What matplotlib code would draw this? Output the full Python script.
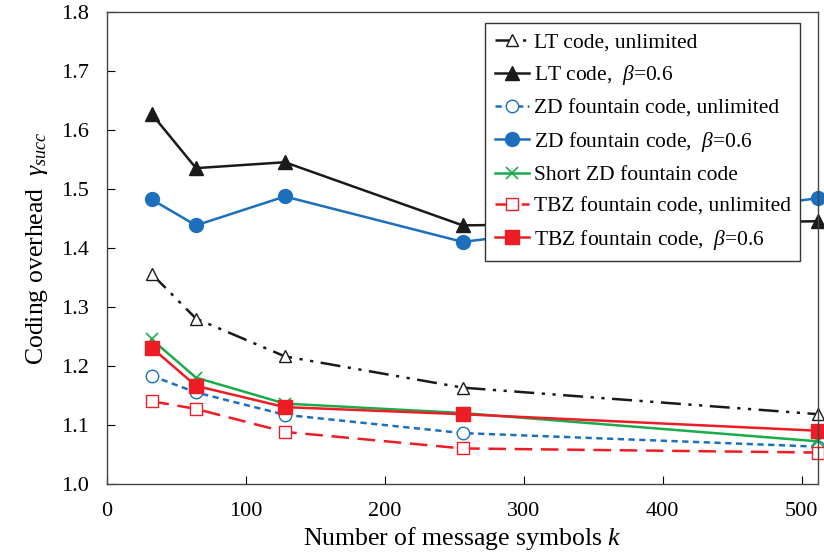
import numpy as np
import matplotlib.pyplot as plt

plt.rcParams['font.family'] = 'Liberation Serif'
plt.rcParams['mathtext.fontset'] = 'custom'
plt.rcParams['mathtext.rm'] = 'Liberation Serif'
plt.rcParams['mathtext.it'] = 'Liberation Serif:italic'

k = [32, 64, 128, 256, 512]

lt_unlim = [1.356, 1.280, 1.216, 1.163, 1.118]
lt_beta = [1.627, 1.535, 1.545, 1.438, 1.445]
zd_unlim = [1.183, 1.155, 1.117, 1.086, 1.063]
zd_beta = [1.482, 1.438, 1.487, 1.410, 1.484]
short_zd = [1.245, 1.180, 1.136, 1.120, 1.072]
tbz_unlim = [1.140, 1.127, 1.088, 1.060, 1.053]
tbz_beta = [1.231, 1.166, 1.130, 1.118, 1.090]

black = '#1a1a1a'
blue = '#1c6fbd'
green = '#1aab4b'
red = '#ee1c25'

fig = plt.figure(figsize=(8.24, 5.6), dpi=100)
ax = fig.add_axes([0.130, 0.136, 0.863, 0.843])

kw = dict(lw=1.8, clip_on=False)
ax.plot(k, lt_unlim, color=black, ls=(0, (8, 3, 1.3, 3, 1.3, 3)), marker='^', ms=9,
        mfc='white', mec=black, label='LT code, unlimited', **kw)
ax.plot(k, lt_beta, color=black, ls='-', marker='^', ms=10,
        label=r'LT code,  $\beta$=0.6', **kw)
ax.plot(k, zd_unlim, color=blue, ls=(0, (2.5, 1.8)), marker='o', ms=9,
        mfc='white', mec=blue, label='ZD fountain code, unlimited', **kw)
ax.plot(k, zd_beta, color=blue, ls='-', marker='o', ms=10,
        label=r'ZD fountain code,  $\beta$=0.6', **kw)
ax.plot(k, short_zd, color=green, ls='-', marker='x', ms=8, mew=1.2,
        label='Short ZD fountain code', **kw)
ax.plot(k, tbz_unlim, color=red, ls=(0, (7, 3.5)), marker='s', ms=9,
        mfc='white', mec=red, label='TBZ fountain code, unlimited', **kw)
ax.plot(k, tbz_beta, color=red, ls='-', marker='s', ms=10,
        label=r'TBZ fountain code,  $\beta$=0.6', **kw)

ax.set_xlim(0, 512)
ax.set_ylim(1.0, 1.8)
ax.set_xticks([0, 100, 200, 300, 400, 500])
ax.set_yticks(np.arange(1.0, 1.81, 0.1))
ax.yaxis.set_major_formatter(plt.FormatStrFormatter('%.1f'))
ax.tick_params(direction='in', length=6, labelsize=16, pad=13,
               top=False, right=False)
for s in ax.spines.values():
    s.set_color('#444444')
    s.set_linewidth(1.0)

ax.set_xlabel(r'Number of message symbols $k$', fontsize=18.5, labelpad=3)
ax.set_ylabel(r'Coding overhead  $\gamma_{succ}$', fontsize=18.5, labelpad=8)

leg = ax.legend(loc='upper right', bbox_to_anchor=(0.99, 1.0), fontsize=15.5,
                handlelength=1.6, handletextpad=0.2, labelspacing=0.52,
                borderpad=0.45, fancybox=False, framealpha=1)
leg.get_frame().set_edgecolor('#333333')
leg.get_frame().set_linewidth(1.0)

fig.savefig('out.png', dpi=100)
